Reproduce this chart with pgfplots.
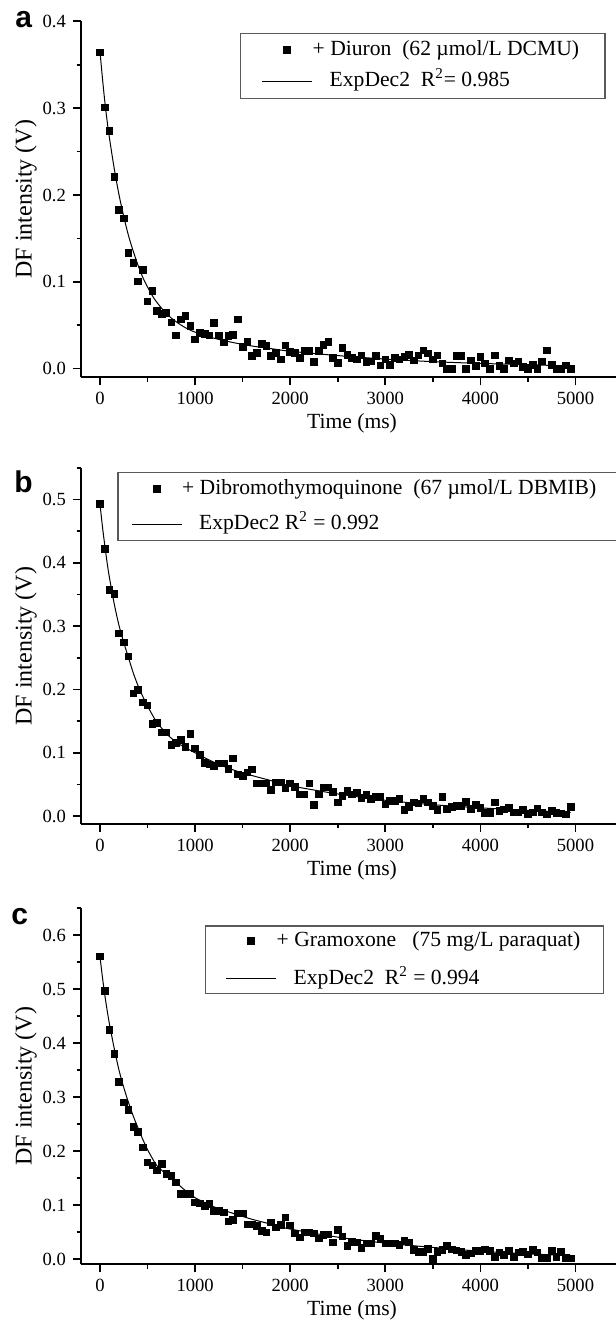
\documentclass[border=0pt]{standalone}
\usepackage{fontspec}
\setmainfont{Liberation Serif}
\newfontfamily\panelfont{Liberation Sans}
\usepackage{pgfplots}
\pgfplotsset{compat=1.18}
\pgfplotsset{
  dfaxis/.style={
    scale only axis, width=271pt, height=178pt,
    xmin=-200, xmax=5500,
    axis x line*=bottom, axis y line*=left,
    xtick={0,1000,2000,3000,4000,5000},
    minor xtick={500,1500,2500,3500,4500,5500},
    tick align=outside,
    major tick length=4pt, minor tick length=2.2pt,
    every tick/.style={black, line width=0.8pt},
    axis line style={line width=0.8pt},
    /pgf/number format/assume math mode=true,
    tick label style={font=\fontsize{9.3}{10}\selectfont},
    y tick label style={/pgf/number format/.cd, fixed, fixed zerofill, precision=1},
    x tick label style={/pgf/number format/.cd, 1000 sep={}},
    scaled y ticks=false, scaled x ticks=false,
    xlabel={Time (ms)}, ylabel={DF intensity (V)},
    xlabel style={at={(axis description cs:0.5,0)}, anchor=center, yshift=-23pt, font=\fontsize{10.8}{12}\selectfont},
    ylabel style={at={(axis description cs:-0.1015,0.5)}, anchor=center, font=\fontsize{12}{14}\selectfont},
    clip=false,
    legend cell align=left,
    legend style={draw=black!65, line width=0.7pt, font=\fontsize{10.8}{12}\selectfont, anchor=north west,
      nodes={inner sep=0pt, text height=8pt, text depth=2.5pt}, column sep=0pt},
  },
  datmark/.style={only marks, mark=square*, mark size=1.65pt, black,
    legend image code/.code={\draw[##1] plot coordinates {(12.5pt,0pt)};}},
  fitline/.style={black, line width=0.5pt, smooth,
    legend image code/.code={\draw[##1] (0pt,0pt) -- (25pt,0pt);}},
}
\begin{document}
\begin{tikzpicture}
\useasboundingbox (0,0) rectangle (308pt,662pt);
% ---------------- panel a
\begin{axis}[dfaxis, at={(40.5pt,473.35pt)}, anchor=south west,
  ymin=-0.01, ymax=0.4, ytick={0,0.1,0.2,0.3,0.4}, minor ytick={0.05,0.15,0.25,0.35},
  legend style={at={(axis description cs:0.2934,0.968)}, inner xsep=10.5pt, inner ysep=3.25pt, row sep=5pt}]
\addplot[datmark] coordinates {(0,0.364)(50,0.301)(100,0.274)(150,0.2205)(200,0.183)(250,0.173)(300,0.1335)(350,0.122)(400,0.1005)(450,0.114)(500,0.0775)(550,0.0894)(600,0.0663)(650,0.0633)(700,0.064)(750,0.0533)(800,0.0384)(850,0.0568)(900,0.0606)(950,0.049)(1000,0.0337)(1050,0.0414)(1100,0.0403)(1150,0.0384)(1200,0.0525)(1250,0.0384)(1300,0.0303)(1350,0.0376)(1400,0.0391)(1450,0.0568)(1500,0.0249)(1550,0.0307)(1600,0.0146)(1650,0.0184)(1700,0.0288)(1750,0.0261)(1800,0.0146)(1850,0.0184)(1900,0.0107)(1950,0.0268)(2000,0.0192)(2050,0.0184)(2100,0.0123)(2150,0.0203)(2200,0.0203)(2250,0.0077)(2300,0.0203)(2350,0.0276)(2400,0.0307)(2450,0.0123)(2500,0.0065)(2550,0.0238)(2600,0.0161)(2650,0.0123)(2700,0.0107)(2750,0.0153)(2800,0.0077)(2850,0.0084)(2900,0.0146)(2950,0.0038)(3000,0.0107)(3050,0.0046)(3100,0.0123)(3150,0.0107)(3200,0.0134)(3250,0.0161)(3300,0.0096)(3350,0.0153)(3400,0.0211)(3450,0.0173)(3500,0.0107)(3550,0.0153)(3600,0.0058)(3650,0.0)(3700,0.0)(3750,0.0146)(3800,0.0146)(3850,0.0)(3900,0.0096)(3950,0.003)(4000,0.0134)(4050,0.0058)(4100,0.0)(4150,0.0153)(4200,0.003)(4250,0.0)(4300,0.0096)(4350,0.0058)(4400,0.0084)(4450,0.0019)(4500,0.0)(4550,0.0046)(4600,0.0)(4650,0.0084)(4700,0.0211)(4750,0.0046)(4800,0.0)(4850,0.0)(4900,0.0038)(4950,0.0)};
\addlegendentry{+ Diuron\ \ (62 µmol/L DCMU)\hspace*{2.5pt}}
\addplot[fitline] coordinates {(0,0.365)(25,0.335)(50,0.308)(75,0.285)(100,0.265)(150,0.230)(200,0.200)(250,0.175)(300,0.153)(350,0.135)(400,0.119)(450,0.105)(500,0.094)(550,0.084)(600,0.076)(700,0.063)(800,0.054)(900,0.047)(1000,0.042)(1200,0.035)(1400,0.030)(1600,0.026)(1800,0.023)(2000,0.020)(2500,0.015)(3000,0.011)(3500,0.008)(4000,0.006)(4500,0.0045)(4950,0.003)};
\addlegendentry{\hspace*{8.5pt}ExpDec2\ \ R\textsuperscript{2}= 0.985}
\end{axis}
% ---------------- panel b
\begin{axis}[dfaxis, at={(40.5pt,250pt)}, anchor=south west,
  ymin=-0.0125, ymax=0.55, ytick={0,0.1,0.2,0.3,0.4,0.5}, minor ytick={0.05,0.15,0.25,0.35,0.45,0.55},
  legend style={at={(axis description cs:0.0673,0.9896)}, inner xsep=6.5pt, inner ysep=3pt, row sep=7.1pt}]
\addplot[datmark] coordinates {(0,0.493)(50,0.4225)(100,0.3576)(150,0.3513)(200,0.2885)(250,0.2743)(300,0.2521)(350,0.194)(400,0.1994)(450,0.1799)(500,0.1746)(550,0.1461)(600,0.1477)(650,0.1324)(700,0.1324)(750,0.1129)(800,0.116)(850,0.1203)(900,0.1097)(950,0.1297)(1000,0.1071)(1050,0.0965)(1100,0.0844)(1150,0.0818)(1200,0.0796)(1250,0.0833)(1300,0.0833)(1350,0.0744)(1400,0.0912)(1450,0.0659)(1500,0.0633)(1550,0.0691)(1600,0.0738)(1650,0.0517)(1700,0.0517)(1750,0.0517)(1800,0.0411)(1850,0.0533)(1900,0.0533)(1950,0.0438)(2000,0.0517)(2050,0.0464)(2100,0.0343)(2150,0.0343)(2200,0.0517)(2250,0.0174)(2300,0.0343)(2350,0.0454)(2400,0.0454)(2450,0.0385)(2500,0.0216)(2550,0.0316)(2600,0.0396)(2650,0.0343)(2700,0.0374)(2750,0.029)(2800,0.0332)(2850,0.0269)(2900,0.0306)(2950,0.0306)(3000,0.0185)(3050,0.0237)(3100,0.0237)(3150,0.0269)(3200,0.0095)(3250,0.0148)(3300,0.0216)(3350,0.02)(3400,0.0269)(3450,0.0216)(3500,0.0164)(3550,0.0095)(3600,0.0306)(3650,0.0105)(3700,0.0148)(3750,0.0158)(3800,0.0158)(3850,0.0227)(3900,0.0111)(3950,0.0174)(4000,0.0132)(4050,0.0053)(4100,0.0053)(4150,0.0216)(4200,0.0084)(4250,0.0105)(4300,0.0132)(4350,0.0058)(4400,0.0058)(4450,0.0095)(4500,0.0032)(4550,0.0058)(4600,0.0121)(4650,0.0058)(4700,0.0026)(4750,0.0084)(4800,0.0053)(4850,0.0042)(4900,0.0026)(4950,0.0148)};
\addlegendentry{+ Dibromothymoquinone\ \ (67 µmol/L DBMIB)\hspace*{4pt}}
\addplot[fitline] coordinates {(0,0.493)(25,0.458)(50,0.428)(75,0.400)(100,0.376)(150,0.335)(200,0.301)(250,0.274)(300,0.250)(350,0.226)(400,0.206)(450,0.189)(500,0.174)(550,0.160)(600,0.148)(700,0.130)(800,0.117)(900,0.108)(1000,0.100)(1200,0.085)(1400,0.073)(1600,0.064)(1800,0.056)(2000,0.048)(2500,0.035)(3000,0.025)(3500,0.018)(4000,0.013)(4500,0.009)(4950,0.006)};
\addlegendentry{\hspace*{8.5pt}ExpDec2 R\textsuperscript{2} = 0.992}
\end{axis}
% ---------------- panel c
\begin{axis}[dfaxis, at={(40.5pt,29.85pt)}, anchor=south west,
  ymin=-0.0093, ymax=0.65, ytick={0,0.1,0.2,0.3,0.4,0.5,0.6}, minor ytick={0.05,0.15,0.25,0.35,0.45,0.55,0.65},
  legend style={at={(axis description cs:0.2279,0.952)}, inner xsep=10.25pt, inner ysep=2.3pt, row sep=8.2pt}]
\addplot[datmark] coordinates {(0,0.561)(50,0.4974)(100,0.4251)(150,0.3806)(200,0.3281)(250,0.2904)(300,0.2768)(350,0.2447)(400,0.2354)(450,0.207)(500,0.1792)(550,0.1736)(600,0.1644)(650,0.1767)(700,0.1582)(750,0.1545)(800,0.1421)(850,0.1211)(900,0.1211)(950,0.1211)(1000,0.105)(1050,0.1038)(1100,0.0989)(1150,0.102)(1200,0.0896)(1250,0.0896)(1300,0.0871)(1350,0.0698)(1400,0.0729)(1450,0.0853)(1500,0.0853)(1550,0.0649)(1600,0.0649)(1650,0.0618)(1700,0.0525)(1750,0.0501)(1800,0.0686)(1850,0.0587)(1900,0.0636)(1950,0.0779)(2000,0.0624)(2050,0.0482)(2100,0.0402)(2150,0.0501)(2200,0.0501)(2250,0.0482)(2300,0.0389)(2350,0.0451)(2400,0.0463)(2450,0.0315)(2500,0.0544)(2550,0.042)(2600,0.0253)(2650,0.0327)(2700,0.0315)(2750,0.0216)(2800,0.0297)(2850,0.0297)(2900,0.0433)(2950,0.0377)(3000,0.0297)(3050,0.0297)(3100,0.0297)(3150,0.0266)(3200,0.034)(3250,0.0315)(3300,0.0173)(3350,0.0142)(3400,0.0142)(3450,0.0192)(3500,0.0006)(3550,0.0142)(3600,0.0173)(3650,0.0253)(3700,0.0185)(3750,0.0161)(3800,0.0142)(3850,0.008)(3900,0.0111)(3950,0.0154)(4000,0.0154)(4050,0.0185)(4100,0.0154)(4150,0.0049)(4200,0.013)(4250,0.008)(4300,0.0154)(4350,0.0049)(4400,0.013)(4450,0.0142)(4500,0.0093)(4550,0.0173)(4600,0.013)(4650,0.0031)(4700,0.0031)(4750,0.0154)(4800,0.0049)(4850,0.0142)(4900,0.0031)(4950,0.0019)};
\addlegendentry{+ Gramoxone\ \ \ (75 mg/L paraquat)\hspace*{1.25pt}}
\addplot[fitline] coordinates {(0,0.560)(25,0.523)(50,0.490)(75,0.461)(100,0.435)(150,0.390)(200,0.350)(250,0.318)(300,0.290)(350,0.265)(400,0.243)(450,0.222)(500,0.203)(550,0.187)(600,0.173)(700,0.157)(800,0.142)(900,0.127)(1000,0.114)(1200,0.097)(1400,0.085)(1600,0.074)(1800,0.065)(2000,0.056)(2500,0.041)(3000,0.030)(3500,0.022)(4000,0.015)(4500,0.010)(4950,0.007)};
\addlegendentry{\hspace*{8.5pt}ExpDec2\ \ R\textsuperscript{2} = 0.994}
\end{axis}
% panel letters
\node[anchor=base west, inner sep=0pt, font=\panelfont\bfseries\fontsize{15}{15}\selectfont] at (7.5pt,648pt) {a};
\node[anchor=base west, inner sep=0pt, font=\panelfont\bfseries\fontsize{15}{15}\selectfont] at (7pt,415.5pt) {b};
\node[anchor=base west, inner sep=0pt, font=\panelfont\bfseries\fontsize{15}{15}\selectfont] at (5.5pt,199.5pt) {c};
\end{tikzpicture}
\end{document}
